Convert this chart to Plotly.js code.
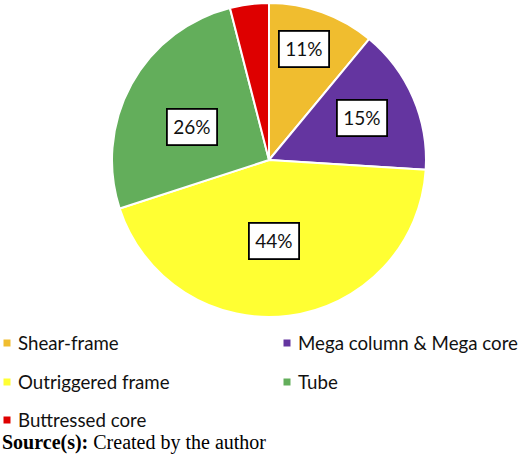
<!DOCTYPE html>
<html>
<head>
<meta charset="utf-8">
<script src="https://cdn.plot.ly/plotly-3.0.1.min.js"></script>
<style>html,body{margin:0;padding:0;background:#fff;} #chart{width:520px;height:455px;}</style>
</head>
<body>
<div id="chart"></div>
<script>
const categories = ["Shear-frame", "Mega column & Mega core", "Outriggered frame", "Tube", "Buttressed core"];
const shares = [11, 15, 44, 26, 4];
const percentLabels = ["11%", "15%", "44%", "26%", ""];
const sliceColors = ["#F0BD2F", "#6435A0", "#FFFF33", "#63AE5B", "#DE0000"];
const sourceText = "<b>Source(s):</b> Created by the author";

// layout constants
const W = 520, H = 455;
const cx = 269, cy = 160, R = 157;
const labelRadius = [0.74, 0.65, 0.52, 0.53, 0.6];
const labelAngleShift = [-2.5, -1, 3.7, -5.8, 0];
const legendCols = [7, 287];
const legendRows = [343, 382, 420];

const px = x => x / W;
const py = y => 1 - y / H;

const total = shares.reduce((a, b) => a + b, 0);
const annotations = [];
const shapes = [];
let cum = 0;
shares.forEach((v, i) => {
  const mid = ((cum + v / 2) / total * 360 + labelAngleShift[i]) * Math.PI / 180;
  cum += v;
  if (!percentLabels[i]) return;
  const r = R * labelRadius[i];
  const x = cx + r * Math.sin(mid);
  const y = cy - r * Math.cos(mid);
  annotations.push({
    x: px(x), y: py(y), xref: 'paper', yref: 'paper',
    text: percentLabels[i], showarrow: false,
    font: {family: 'Lato, "Open Sans", sans-serif', size: 19, color: '#111'},
    bgcolor: '#fff', bordercolor: '#000', borderwidth: 1.8, borderpad: 5.5,
    xanchor: 'center', yanchor: 'middle'
  });
});

categories.forEach((c, i) => {
  const col = i % 2, row = Math.floor(i / 2);
  const mx = legendCols[col], my = legendRows[row];
  shapes.push({
    type: 'rect', xref: 'paper', yref: 'paper',
    x0: px(mx - 3.5), x1: px(mx + 3.5), y0: py(my + 3.5), y1: py(my - 3.5),
    fillcolor: sliceColors[i], line: {width: 0}
  });
  annotations.push({
    x: px(mx + 9), y: py(my), xref: 'paper', yref: 'paper',
    text: c, showarrow: false, xanchor: 'left', yanchor: 'middle',
    font: {family: 'Lato, "Open Sans", sans-serif', size: 18.7, color: '#111'}
  });
});

annotations.push({
  x: 0, y: py(442), xref: 'paper', yref: 'paper', xanchor: 'left', yanchor: 'middle',
  text: sourceText, showarrow: false,
  font: {family: '"Liberation Serif", "Times New Roman", serif', size: 20, color: '#000'}
});

const data = [{
  type: 'pie',
  labels: categories,
  values: shares,
  sort: false,
  direction: 'clockwise',
  rotation: 0,
  textinfo: 'none',
  hoverinfo: 'label+percent',
  marker: {colors: sliceColors, line: {color: '#fff', width: 2}},
  domain: {x: [px(cx - R), px(cx + R)], y: [py(cy + R), py(cy - R)]},
  showlegend: false
}];

const layout = {
  width: W, height: H,
  margin: {l: 0, r: 0, t: 0, b: 0},
  paper_bgcolor: '#fff',
  showlegend: false,
  annotations: annotations,
  shapes: shapes
};

Plotly.newPlot('chart', data, layout, {displayModeBar: false, staticPlot: true});
</script>
</body>
</html>
